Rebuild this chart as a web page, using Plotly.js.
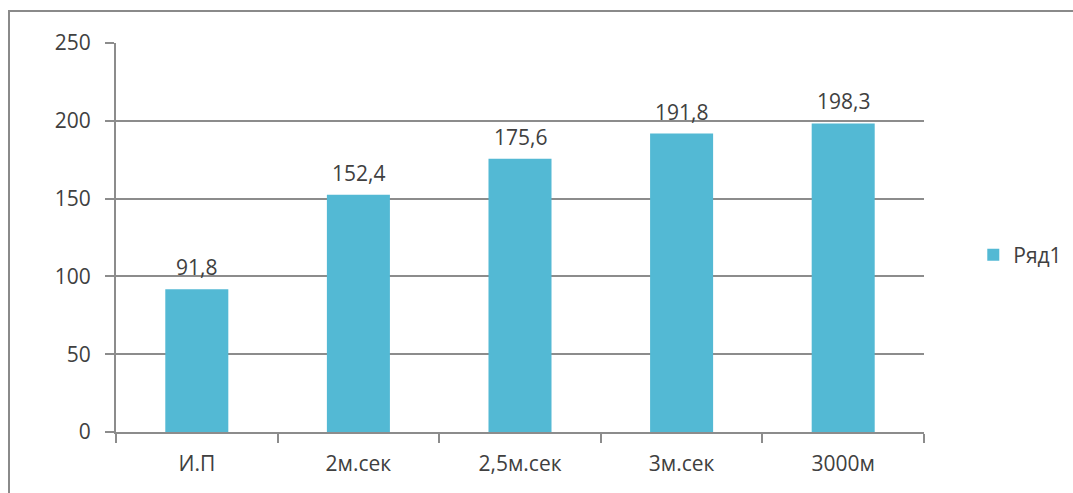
<!DOCTYPE html>
<html>
<head>
<meta charset="utf-8">
<script src="https://cdn.plot.ly/plotly-3.0.1.min.js"></script>
<style>
  html, body { margin: 0; padding: 0; background: #fff; }
  #wrap { position: relative; width: 1073px; height: 493px; overflow: hidden; }
  #chart { width: 1073px; height: 493px; }
  #frame { position: absolute; left: 8px; top: 10px; right: -10px; bottom: -10px;
           border-left: 2px solid #8a8a8a; border-top: 2px solid #8a8a8a; pointer-events: none; }
</style>
</head>
<body>
<div id="wrap">
  <div id="chart"></div>
  <div id="frame"></div>
</div>
<script>
const categories = ["И.П", "2м.сек", "2,5м.сек", "3м.сек", "3000м"];
const values = [91.8, 152.4, 175.6, 191.8, 198.3];
const valueLabels = ["91,8", "152,4", "175,6", "191,8", "198,3"];
const seriesName = "Ряд1";
const yTicks = [0, 50, 100, 150, 200, 250];

const fontFamily = "Open Sans, Liberation Sans, sans-serif";
const textColor = "#404040";
const gridColor = "#8c8c8c";

const labelAnnotations = categories.map((c, i) => ({
  x: c, y: values[i], xref: "x", yref: "y",
  text: valueLabels[i], showarrow: false,
  xanchor: "center", yanchor: "bottom", yshift: 6,
  font: { family: fontFamily, size: 21, color: textColor }
}));

Plotly.newPlot("chart", [{
  type: "bar",
  x: categories,
  y: values,
  name: seriesName,
  marker: { color: "#53b9d4" },
  hoverinfo: "x+y"
}], {
  width: 1073,
  height: 493,
  margin: { l: 116, r: 149, t: 43, b: 61, autoexpand: false },
  paper_bgcolor: "#ffffff",
  plot_bgcolor: "#ffffff",
  bargap: 0.61,
  showlegend: true,
  annotations: labelAnnotations,
  legend: {
    x: 1.061, y: 0.455, xanchor: "left", yanchor: "middle",
    font: { family: fontFamily, size: 21, color: textColor },
    itemwidth: 30
  },
  xaxis: {
    type: "category",
    showline: true, linecolor: gridColor, linewidth: 2,
    ticks: "outside", tickson: "boundaries", ticklen: 9, tickcolor: gridColor, tickwidth: 2,
    tickfont: { family: fontFamily, size: 21, color: textColor },
    ticklabelstandoff: 12,
    showgrid: false, zeroline: false
  },
  yaxis: {
    range: [0, 250],
    tickvals: yTicks,
    showline: true, linecolor: gridColor, linewidth: 2,
    ticks: "outside", ticklen: 9, tickcolor: gridColor, tickwidth: 2,
    showgrid: true, gridcolor: gridColor, gridwidth: 2,
    zeroline: false,
    tickfont: { family: fontFamily, size: 21, color: textColor },
    ticklabelstandoff: 10
  }
}, { displayModeBar: false, staticPlot: true });
</script>
</body>
</html>
